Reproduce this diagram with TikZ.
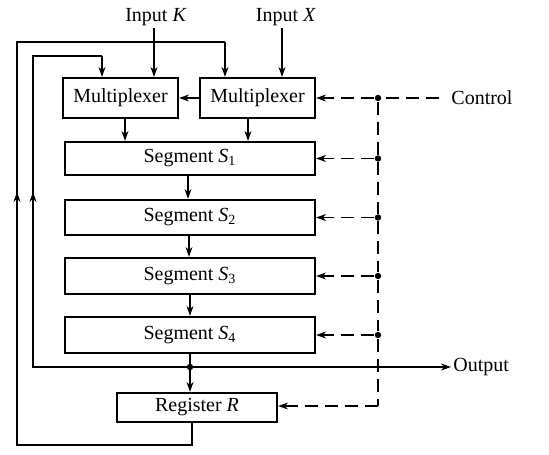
\documentclass[tikz,border=0pt]{standalone}
\usepackage{fontspec}
\setmainfont{Liberation Serif}
\usetikzlibrary{arrows.meta}
\begin{document}
\begin{tikzpicture}[x=0.5pt,y=-0.5pt,
 box/.style={draw,line width=1.1pt,inner sep=0pt,font=\fontsize{10}{12}\selectfont},
 conn/.style={line width=0.6pt,-{Stealth[length=5pt,width=3.5pt]}},
 wire/.style={line width=0.6pt},
 ctl/.style={line width=0.6pt,dash pattern=on 6.5pt off 3.5pt},
 ctlarrow/.style={ctl,-{Stealth[length=5pt,width=3.5pt]}},
 dot/.style={circle,fill,inner sep=0pt,minimum size=3.2pt},
 lbl/.style={font=\fontsize{10}{12}\selectfont,inner sep=1pt}]
\useasboundingbox (0,0) rectangle (549,454);
% boxes
\node[box,minimum width=57.5pt,minimum height=20pt] (m1) at (120.5,98) {Multiplexer};
\node[box,minimum width=57.5pt,minimum height=20pt] (m2) at (257.5,98) {Multiplexer};
\node[box,minimum width=125pt,minimum height=16.5pt] (s1) at (190,158.5) {Segment \textit{S}\textsubscript{1}};
\node[box,minimum width=125pt,minimum height=17.5pt] (s2) at (190,217.5) {Segment \textit{S}\textsubscript{2}};
\node[box,minimum width=125pt,minimum height=18pt] (s3) at (190,276) {Segment \textit{S}\textsubscript{3}};
\node[box,minimum width=125pt,minimum height=18pt] (s4) at (190,335) {Segment \textit{S}\textsubscript{4}};
\node[box,minimum width=80pt,minimum height=14.5pt] (reg) at (197,407.5) {Register \textit{R}};
% labels
\node[lbl] (ik) at (156,17) {Input \textit{K}};
\node[lbl] (ix) at (286,17) {Input \textit{X}};
\node[lbl,anchor=west,inner sep=6pt] (ctltext) at (439,98) {Control};
\node[lbl,anchor=west] (out) at (451,367) {Output};
% coordinates
\coordinate (ikb) at (154,33);
\coordinate (ixb) at (282,33);
\coordinate (j) at (190,367);
\coordinate (ol1) at (33,367);
\coordinate (ol2) at (33,56);
\coordinate (ol3) at (102,56);
\coordinate (rb) at (192,445);
\coordinate (fb1) at (17,445);
\coordinate (fb2) at (17,42);
\coordinate (fb3) at (225,42);
\coordinate (upa) at (17,192);
\coordinate (upb) at (33,192);
\coordinate (cc) at (378,406);
\node[dot] (c0) at (378,98) {};
\node[dot] (c1) at (378,158.5) {};
\node[dot] (c2) at (378,217.5) {};
\node[dot] (c3) at (378,276) {};
\node[dot] (c4) at (378,335) {};
% inputs
\draw[conn] (ik.south -| ikb) -- (ikb |- m1.north);
\draw[conn] (ix.south -| ixb) -- (ixb |- m2.north);
% mux
\draw[conn] (m2.west) -- (m1.east);
\draw[conn] (m1.south -| 125,0) -- (s1.north -| 125,0);
\draw[conn] (m2.south -| 248,0) -- (s1.north -| 248,0);
% segments
\draw[conn] (s1.south -| 188,0) -- (s2.north -| 188,0);
\draw[conn] (s2.south -| 189,0) -- (s3.north -| 189,0);
\draw[conn] (s3.south -| 190,0) -- (s4.north -| 190,0);
\draw[wire] (s4.south -| j) -- (j);
\draw[conn] (j) -- (j |- reg.north);
\fill (j) circle (1.6pt);
% output line and feedback to mux1
\draw[conn] (j) -- (out.west);
\draw[wire] (j) -- (ol1) -- (ol2) -- (ol3);
\draw[conn] (ol3) -- (ol3 |- m1.north);
\draw[conn] (ol1) -- (upb);
% register feedback to mux2
\draw[wire] (reg.south -| rb) -- (rb) -- (fb1) -- (fb2) -- (fb3);
\draw[conn] (fb3) -- (fb3 |- m2.north);
\draw[conn] (fb1) -- (upa);
% control
\draw[ctl] (ctltext.west) -- (c0);
\draw[ctl] (c0) -- (c1) -- (c2) -- (c3) -- (c4) -- (cc) ;
\draw[ctlarrow] (cc) -- (reg.east |- cc);
\draw[ctlarrow] (c0) -- (m2.east);
\draw[ctlarrow] (c1) -- (s1.east);
\draw[ctlarrow] (c2) -- (s2.east);
\draw[ctlarrow] (c3) -- (s3.east);
\draw[ctlarrow] (c4) -- (s4.east);
\end{tikzpicture}
\end{document}
